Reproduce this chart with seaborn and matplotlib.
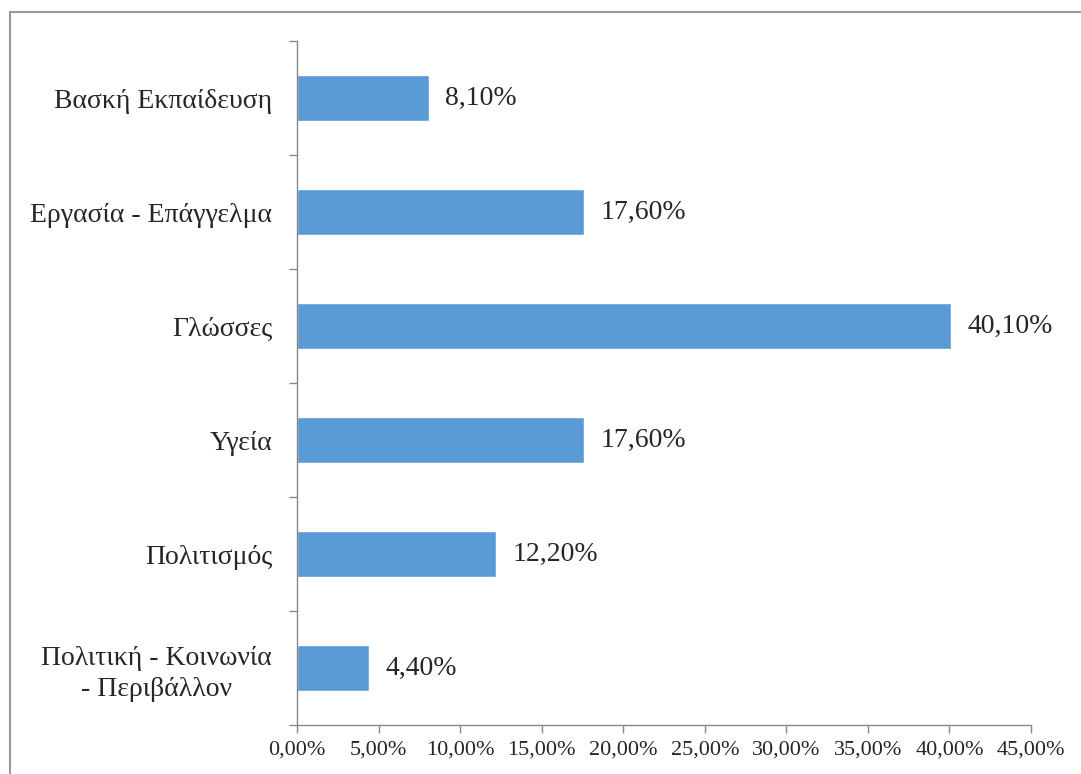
import matplotlib
matplotlib.use("Agg")
import matplotlib.pyplot as plt
import seaborn as sns
import pandas as pd
import numpy as np
from matplotlib.patches import Rectangle
from matplotlib.ticker import FixedLocator

categories = ["Βασκή Εκπαίδευση", "Εργασία - Επάγγελμα", "Γλώσσες", "Υγεία",
              "Πολιτισμός", "Πολιτική - Κοινωνία\n- Περιβάλλον"]
values = [8.1, 17.6, 40.1, 17.6, 12.2, 4.4]
xticks = [0, 5, 10, 15, 20, 25, 30, 35, 40, 45]

sns.set_style("white")
plt.rcParams["font.family"] = ["Liberation Serif", "DejaVu Serif"]

df = pd.DataFrame({"cat": categories, "val": values})

fig = plt.figure(figsize=(10.81, 7.74), dpi=100)
ax = fig.add_axes([297 / 1081, 1 - 725 / 774, (1031 - 297) / 1081, (725 - 41) / 774])

sns.barplot(data=df, x="val", y="cat", color="#5B9BD5", width=0.4, ax=ax,
            saturation=1, orient="h")

ax.set_xlim(0, 45)
ax.set_ylim(len(categories) - 0.5, -0.5)
ax.set_xticks(xticks)
ax.set_xticklabels([f"{t:.2f}%".replace(".", ",") for t in xticks], fontsize=16)
ax.set_yticks(range(len(categories)))
ax.set_yticklabels(categories, fontsize=20, multialignment="center", linespacing=1.3)
ax.yaxis.set_minor_locator(FixedLocator(np.arange(-0.5, len(categories), 1)))
ax.tick_params(axis="y", which="major", length=0, pad=18)
ax.tick_params(axis="y", which="minor", length=6, color="#888888", width=1, left=True)
ax.tick_params(axis="x", which="major", length=6, color="#888888", width=1, bottom=True, pad=5)
ax.set_xlabel("")
ax.set_ylabel("")

for s in ["top", "right"]:
    ax.spines[s].set_visible(False)
for s in ["left", "bottom"]:
    ax.spines[s].set_color("#888888")
    ax.spines[s].set_linewidth(1)

for i, v in enumerate(values):
    ax.text(v + 1.0, i, f"{v:.2f}%".replace(".", ","), va="center", ha="left", fontsize=20)

fig.patches.append(Rectangle((10 / 1081, -0.1), 1.2, 1 - 12 / 774 + 0.1,
                             transform=fig.transFigure, fill=False,
                             edgecolor="#999999", linewidth=1.5))

fig.savefig("out.png", dpi=100)
